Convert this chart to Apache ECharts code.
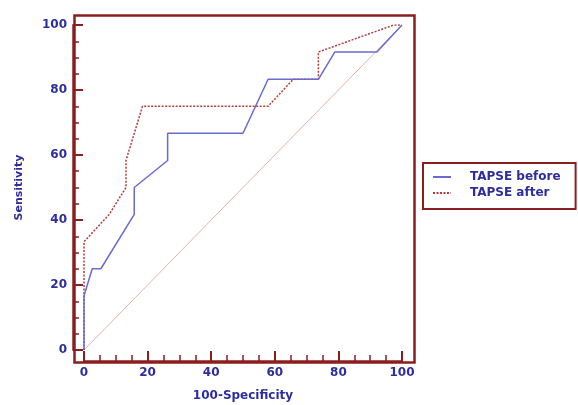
<!DOCTYPE html>
<html>
<head>
<meta charset="utf-8">
<script src="https://cdn.jsdelivr.net/npm/echarts@6/dist/echarts.min.js"></script>
<style>html,body{margin:0;padding:0;background:#fff}#c{width:578px;height:405px}</style>
</head>
<body>
<div id="c"></div>
<script>
var seriesNames = ['TAPSE before', 'TAPSE after'];
var beforeX = [0, 0, 2.6, 5.3, 15.8, 15.8, 26.3, 26.3, 50, 57.9, 73.7, 78.9, 92.1, 100];
var beforeY = [0, 16.7, 25, 25, 41.7, 50, 58.3, 66.7, 66.7, 83.3, 83.3, 91.7, 91.7, 100];
var afterX = [0, 0, 7.9, 13.2, 13.2, 18.4, 57.9, 65.8, 73.7, 73.7, 97.4, 100];
var afterY = [0, 33.3, 41.7, 50, 58.3, 75, 75, 83.3, 83.3, 91.7, 100, 100];
var diagX = [0, 100];
var diagY = [0, 100];
var xTitle = '100-Specificity';
var yTitle = 'Sensitivity';

function pairs(xs, ys) { return xs.map(function (x, i) { return [x, ys[i]]; }); }

var frameColor = '#8b1f1f';
var textColor = '#2d2d9e';
var font = 'DejaVu Sans';

function axisCommon() {
  return {
    type: 'value', min: 0, max: 100, interval: 20, offset: 11,
    axisLine: { show: true, onZero: false, lineStyle: { color: frameColor, width: 2.5 } },
    axisTick: { show: true, inside: true, length: 10, lineStyle: { color: frameColor, width: 2 } },
    minorTick: { show: true, splitNumber: 4, length: 6, lineStyle: { color: frameColor, width: 1.5 } },
    splitLine: { show: false },
    axisLabel: { color: textColor, fontWeight: 'bold', fontFamily: font, fontSize: 12, margin: 6 },
    nameLocation: 'middle',
    nameTextStyle: { color: textColor, fontWeight: 'bold', fontFamily: font, fontSize: 12 }
  };
}

var xAxis = axisCommon();
xAxis.name = xTitle;
xAxis.nameGap = 29;
var yAxis = axisCommon();
yAxis.name = yTitle;
yAxis.nameGap = 48;
yAxis.nameTextStyle.fontSize = 11;

var chart = echarts.init(document.getElementById('c'));
chart.setOption({
  animation: false,
  backgroundColor: '#fff',
  grid: { left: 84, top: 25, width: 318, height: 325, containLabel: false, outerBoundsMode: 'none' },
  xAxis: xAxis,
  yAxis: yAxis,
  graphic: [{
    type: 'rect', left: 72, top: 13, z: 100, silent: true,
    shape: { width: 340, height: 347 },
    style: { fill: 'none', stroke: frameColor, lineWidth: 2.5 }
  }],
  legend: {
    orient: 'vertical', left: 423, top: 163,
    data: seriesNames,
    itemWidth: 18, itemHeight: 10, itemGap: 4,
    padding: [8, 15, 10, 9],
    borderColor: frameColor, borderWidth: 2, backgroundColor: '#fff',
    textStyle: { color: textColor, fontWeight: 'bold', fontFamily: font, fontSize: 12, padding: [0, 0, 0, 14] }
  },
  series: [
    {
      name: 'diag', type: 'line', data: pairs(diagX, diagY), symbol: 'none', silent: true,
      lineStyle: { color: '#e2b2b2', width: 1 }, z: 1
    },
    {
      name: seriesNames[0], type: 'line', data: pairs(beforeX, beforeY), symbol: 'none',
      itemStyle: { color: '#6a6acf', opacity: 0 },
      lineStyle: { color: '#6a6acf', width: 1.5, opacity: 1 }, z: 3
    },
    {
      name: seriesNames[1], type: 'line', data: pairs(afterX, afterY), symbol: 'none',
      itemStyle: { color: '#b33b3b', opacity: 0 },
      lineStyle: { color: '#b33b3b', width: 1.5, type: [2, 1.5], opacity: 1 }, z: 2
    }
  ]
});
</script>
</body>
</html>
